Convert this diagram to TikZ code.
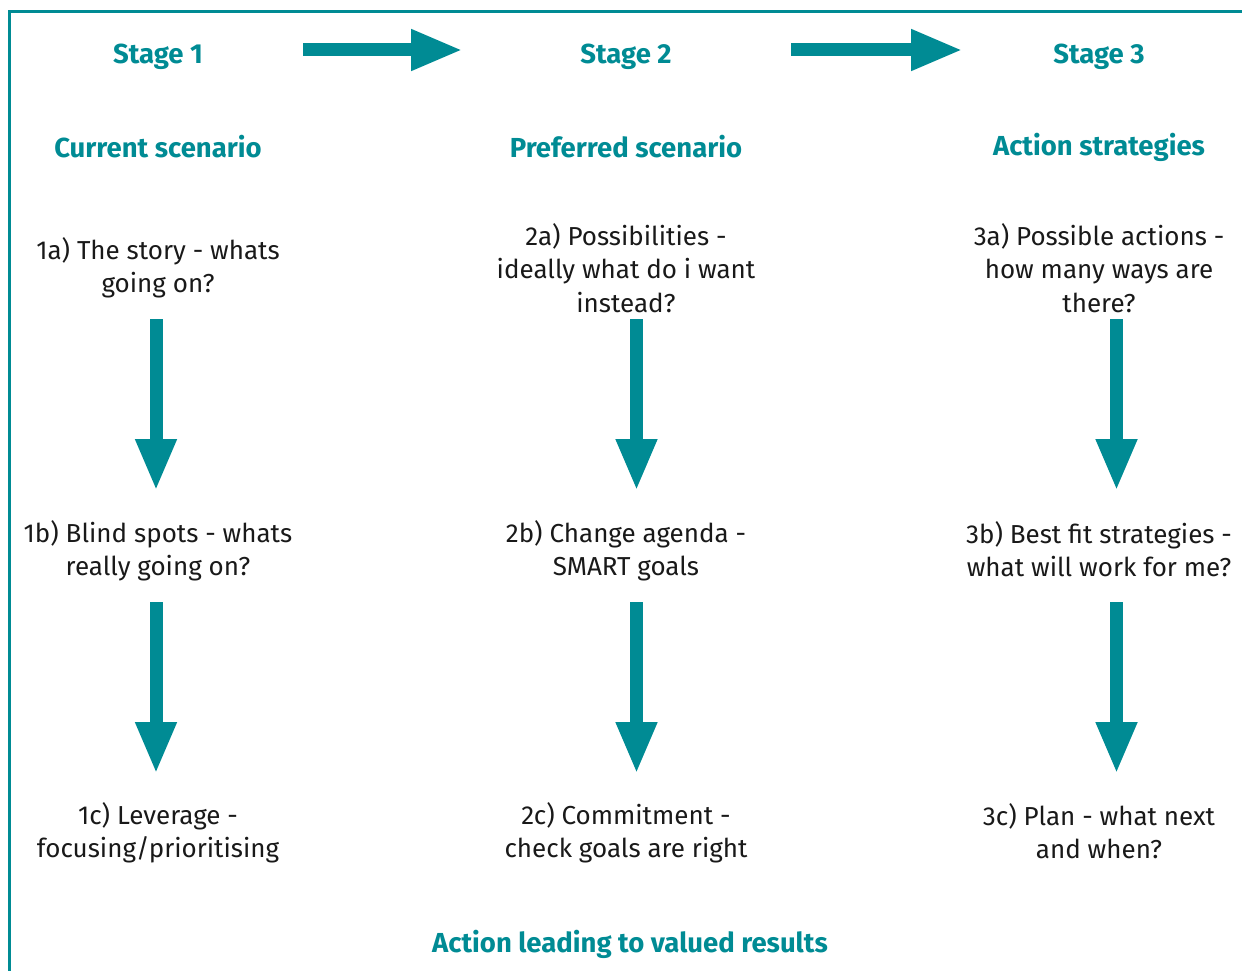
\documentclass[tikz,border=0pt]{standalone}
\usepackage{fontspec}
\setmainfont{Fira Sans}
\usetikzlibrary{arrows.meta}
\definecolor{stageteal}{RGB}{0,139,148}
\tikzset{
	stagetxt/.style={font=\fontsize{27.5}{34}\selectfont\bfseries, text=stageteal},
	steptxt/.style={align=center, font=\fontsize{26}{33.5}\selectfont, text=black!90},
	flow/.style={draw=stageteal, line width=13pt, -{Triangle[width=38pt,length=52pt]}}
}
\begin{document}
\begin{tikzpicture}[x=1pt, y=-1pt, line join=miter]
	\def\ca{158} \def\cb{626} \def\cc{1099} % text columns
	\def\xa{156} \def\xb{636.5} \def\xc{1116.5} % arrow columns
	\useasboundingbox (0,0) rectangle (1242,971);
	\draw[stageteal, line width=3pt] (9.5,971) -- (9.5,12) -- (1242,12);
	% stages
	\node[stagetxt] (s1) at (\ca,57) {Stage 1};
	\node[stagetxt] (s2) at (\cb,57) {Stage 2};
	\node[stagetxt] (s3) at (\cc,57) {Stage 3};
	\node[stagetxt] (h1) at (\ca,147) {Current scenario};
	\node[stagetxt] (h2) at (\cb,147) {Preferred scenario};
	\node[stagetxt] (h3) at (\cc,147) {Action strategies};
	% steps
	\node[steptxt] (a1) at (\ca,268) {1a) The story - whats\\going on?};
	\node[steptxt] (a2) at (\cb,268) {2a) Possibilities -\\ideally what do i want\\instead?};
	\node[steptxt] (a3) at (\cc,268) {3a) Possible actions -\\how many ways are\\there?};
	\node[steptxt] (b1) at (\ca,551) {1b) Blind spots - whats\\really going on?};
	\node[steptxt] (b2) at (\cb,551) {2b) Change agenda -\\SMART goals};
	\node[steptxt] (b3) at (\cc,549) {3b) Best fit strategies -\\what will work for me?};
	\node[steptxt] (c1) at (\ca,833) {1c) Leverage -\\focusing/prioritising};
	\node[steptxt] (c2) at (\cb,833) {2c) Commitment -\\check goals are right};
	\node[steptxt] (c3) at (\cc,831) {3c) Plan - what next\\and when?};
	\node[stagetxt] (res) at (630,944) {Action leading to valued results};
	% arrows
	\coordinate (r1s) at (303,50); \coordinate (r1e) at (463,50);
	\coordinate (r2s) at (791,50); \coordinate (r2e) at (963,50);
	\draw[flow] (r1s) -- (r1e);
	\draw[flow] (r2s) -- (r2e);
	\foreach \n/\x in {1/\xa,2/\xb,3/\xc}{
		\coordinate (u\n s) at (\x,319); \coordinate (u\n e) at (\x,491);
		\coordinate (d\n s) at (\x,602); \coordinate (d\n e) at (\x,774);
		\draw[flow] (u\n s) -- (u\n e);
		\draw[flow] (d\n s) -- (d\n e);
	}
\end{tikzpicture}
\end{document}
